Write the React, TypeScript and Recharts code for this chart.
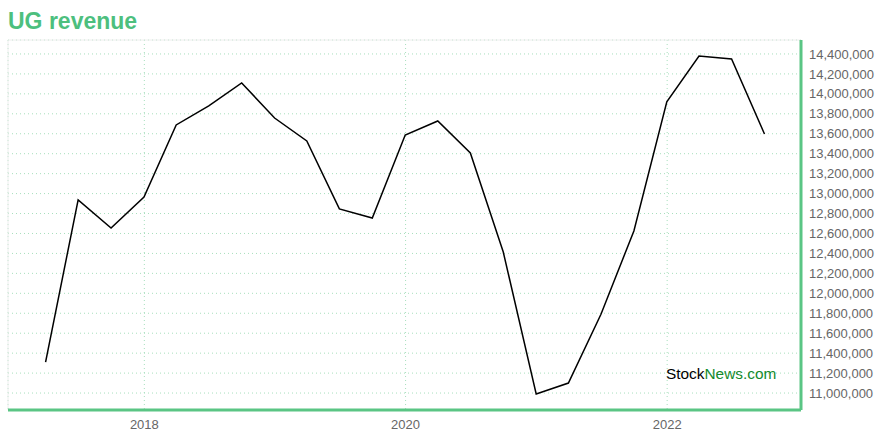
import React from "react";
import {
  LineChart, Line, XAxis, YAxis, CartesianGrid, ReferenceLine,
} from "recharts";

// quarter-end report dates and revenue
const dates = [
  "2017-03-31", "2017-06-30", "2017-09-30", "2017-12-31",
  "2018-03-31", "2018-06-30", "2018-09-30", "2018-12-31",
  "2019-03-31", "2019-06-30", "2019-09-30", "2019-12-31",
  "2020-03-31", "2020-06-30", "2020-09-30", "2020-12-31",
  "2021-03-31", "2021-06-30", "2021-09-30", "2021-12-31",
  "2022-03-31", "2022-06-30", "2022-09-30",
];
const revenue = [
  11311000, 12936000, 12655000, 12966000,
  13688000, 13879000, 14109000, 13758000,
  13528000, 12846000, 12755000, 13588000,
  13728000, 13407000, 12414000, 10990000,
  11100000, 11790000, 12625000, 13919000,
  14380000, 14350000, 13598000,
];
const yTicks = [
  11000000, 11200000, 11400000, 11600000, 11800000, 12000000, 12200000,
  12400000, 12600000, 12800000, 13000000, 13200000, 13400000, 13600000,
  13800000, 14000000, 14200000, 14400000,
];
const xTickDates = ["2018-01-01", "2020-01-01", "2022-01-01"];

const Y_DOMAIN: [number, number] = [10830000, 14540000];
const X_DOMAIN: [number, number] = [Date.parse("2016-12-16"), Date.parse("2023-01-10")];

const data = dates.map((d, i) => ({ t: Date.parse(d), revenue: revenue[i] }));
const xTicks = xTickDates.map((d) => Date.parse(d));

const GREEN = "#5ac584";
const FONT = "'Liberation Sans', Arial, Helvetica, sans-serif";

export default function App() {
  return (
    <div style={{ position: "absolute", left: 0, top: 0, width: 880, height: 440, fontFamily: FONT }}>
      <div style={{
        position: "absolute", left: 8, top: 6, fontSize: 23, fontWeight: "bold",
        color: "#4dbf7e", lineHeight: "30px",
      }}>
        UG revenue
      </div>
      <LineChart width={880} height={440} data={data}
        margin={{ top: 40, right: 2, left: 8, bottom: 0 }}>
        <CartesianGrid stroke="#a8dfbd" strokeDasharray="1 3" />
        <ReferenceLine y={Y_DOMAIN[1]} stroke="#eeeeee" strokeWidth={1} />
        <ReferenceLine x={X_DOMAIN[0]} stroke="#eeeeee" strokeWidth={1} />
        <XAxis dataKey="t" type="number" domain={X_DOMAIN} ticks={xTicks}
          allowDataOverflow height={30}
          tickFormatter={(v) => String(new Date(v).getUTCFullYear())}
          tick={{ fontSize: 13, fill: "#666", fontFamily: FONT, dy: 2 }}
          tickLine={false} axisLine={{ stroke: GREEN, strokeWidth: 3 }} />
        <YAxis orientation="right" type="number" domain={Y_DOMAIN} ticks={yTicks}
          allowDataOverflow width={77} interval={0}
          tickFormatter={(v) => Number(v).toLocaleString("en-US")}
          tick={{ fontSize: 13, fill: "#666", fontFamily: FONT, textAnchor: "start" }}
          tickLine={false} axisLine={{ stroke: GREEN, strokeWidth: 3 }} />
        <Line type="linear" dataKey="revenue" stroke="#000" strokeWidth={1.5}
          dot={false} isAnimationActive={false} />
      </LineChart>
      <div style={{ position: "absolute", left: 666, top: 365, fontSize: 15.4, lineHeight: "18px" }}>
        <span style={{ color: "#000" }}>Stock</span>
        <span style={{ color: "#138a2c" }}>News.com</span>
      </div>
    </div>
  );
}
